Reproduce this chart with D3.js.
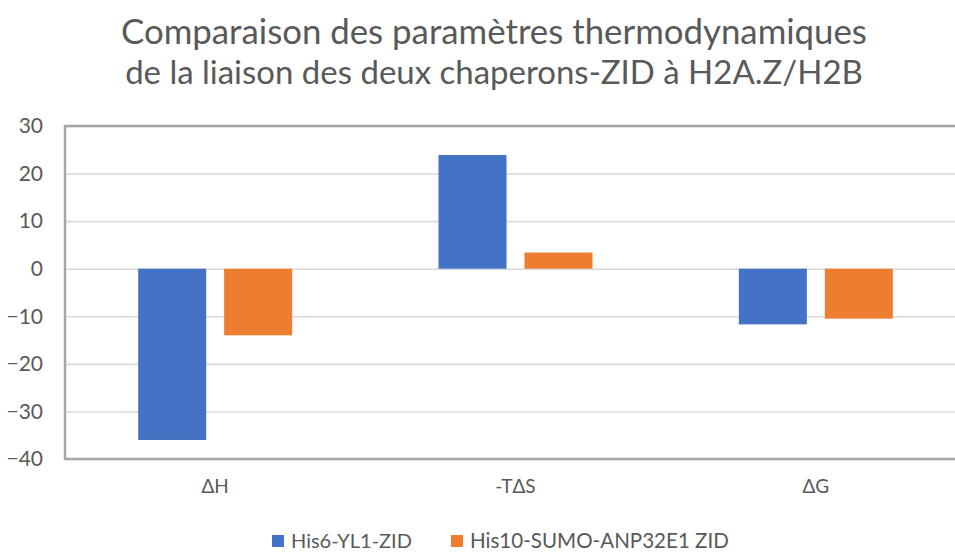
<!DOCTYPE html>
<html>
<head>
<meta charset="utf-8">
<script src="https://cdn.jsdelivr.net/npm/d3@7"></script>
<style>
  html, body { margin: 0; padding: 0; background: #fff; }
  svg { display: block; font-family: Lato, "Open Sans", sans-serif; }
</style>
</head>
<body>
<svg id="chart" width="955" height="553"></svg>
<script>
// Thermodynamic parameters (kcal/mol) for the two chaperone ZIDs
const categories = ["ΔH", "-TΔS", "ΔG"];
const seriesNames = ["His6-YL1-ZID", "His10-SUMO-ANP32E1 ZID"];
const yl1Values = [-36.0, 23.9, -11.7];
const anp32e1Values = [-14.0, 3.4, -10.5];
const yTicks = [-40, -30, -20, -10, 0, 10, 20, 30];
const titleLines = [
  "Comparaison des paramètres thermodynamiques",
  "de la liaison des deux chaperons-ZID à H2A.Z/H2B"
];
const colors = ["#4472c4", "#ed7d31"];

const rows = categories.map((c, i) => ({
  category: c,
  values: [yl1Values[i], anp32e1Values[i]]
}));

const svg = d3.select("#chart");
const plot = { left: 65, right: 966, top: 126, bottom: 459 };
const textColor = "#595959";

// Scale a text node's font size so that it spans a given width
function fitWidth(sel, base, target) {
  sel.each(function () {
    const w = this.getComputedTextLength();
    d3.select(this).style("font-size", (base * target / w).toFixed(2) + "px");
  });
}

const x0 = d3.scaleBand().domain(categories).range([plot.left, plot.right]);
const groupHalf = 77;
const x1 = d3.scaleBand().domain(seriesNames)
  .range([x0.bandwidth() / 2 - groupHalf, x0.bandwidth() / 2 + groupHalf])
  .paddingInner(0.209).paddingOuter(0);
const y = d3.scaleLinear().domain([-40, 30]).range([plot.bottom, plot.top]);

// Title
const titleTargets = [746, 738];
titleLines.forEach((t, i) => {
  const txt = svg.append("text")
    .attr("x", 494).attr("y", 44 + i * 40)
    .attr("text-anchor", "middle")
    .attr("fill", textColor)
    .style("font-size", "30px")
    .text(t);
  fitWidth(txt, 30, titleTargets[i]);
});

// Horizontal gridlines
svg.append("g")
  .attr("transform", `translate(${plot.left},0)`)
  .call(d3.axisLeft(y).tickValues(yTicks).tickSize(-(plot.right - plot.left)).tickFormat(""))
  .call(g => g.select(".domain").remove())
  .call(g => g.selectAll(".tick line").attr("stroke", "#d9d9d9").attr("stroke-width", 1.6));

// Y tick labels
svg.append("g")
  .attr("transform", `translate(${plot.left},0)`)
  .call(d3.axisLeft(y).tickValues(yTicks).tickSize(0).tickPadding(22).tickFormat(d3.format("d")))
  .call(g => g.select(".domain").remove())
  .call(g => g.selectAll(".tick text")
    .attr("fill", textColor)
    .style("font-size", "21px")
    .style("font-family", "Lato, 'Open Sans', sans-serif"));

// Bars
const groups = svg.append("g").selectAll("g")
  .data(rows).join("g")
  .attr("transform", d => `translate(${x0(d.category)},0)`);

groups.selectAll("rect")
  .data(d => d.values.map((v, i) => ({ name: seriesNames[i], value: v, i })))
  .join("rect")
  .attr("x", d => x1(d.name))
  .attr("width", x1.bandwidth())
  .attr("y", d => y(Math.max(0, d.value)))
  .attr("height", d => Math.abs(y(d.value) - y(0)))
  .attr("fill", d => colors[d.i]);

// Plot frame
svg.append("rect")
  .attr("x", plot.left).attr("y", plot.top)
  .attr("width", plot.right - plot.left).attr("height", plot.bottom - plot.top)
  .attr("fill", "none").attr("stroke", "#a6a6a6").attr("stroke-width", 2.5);

// Category labels
svg.append("g")
  .attr("transform", `translate(0,${plot.bottom})`)
  .call(d3.axisBottom(x0).tickSize(0).tickPadding(21))
  .call(g => g.select(".domain").remove())
  .call(g => g.selectAll(".tick text")
    .attr("fill", textColor)
    .style("font-size", "19px")
    .style("font-family", "Lato, 'Open Sans', sans-serif"));

// Legend
const legendX = [272, 451];
const legendTextWidth = [121, 259];
const legend = svg.append("g").selectAll("g")
  .data(seriesNames).join("g")
  .attr("transform", (d, i) => `translate(${legendX[i]},535)`);
legend.append("rect")
  .attr("x", 0).attr("y", 0).attr("width", 12).attr("height", 12)
  .attr("fill", (d, i) => colors[i]);
legend.append("text")
  .attr("x", 19).attr("y", 12.5)
  .attr("fill", textColor)
  .style("font-size", "19px")
  .text(d => d)
  .each(function (d, i) { fitWidth(d3.select(this), 19, legendTextWidth[i]); });
</script>
</body>
</html>
